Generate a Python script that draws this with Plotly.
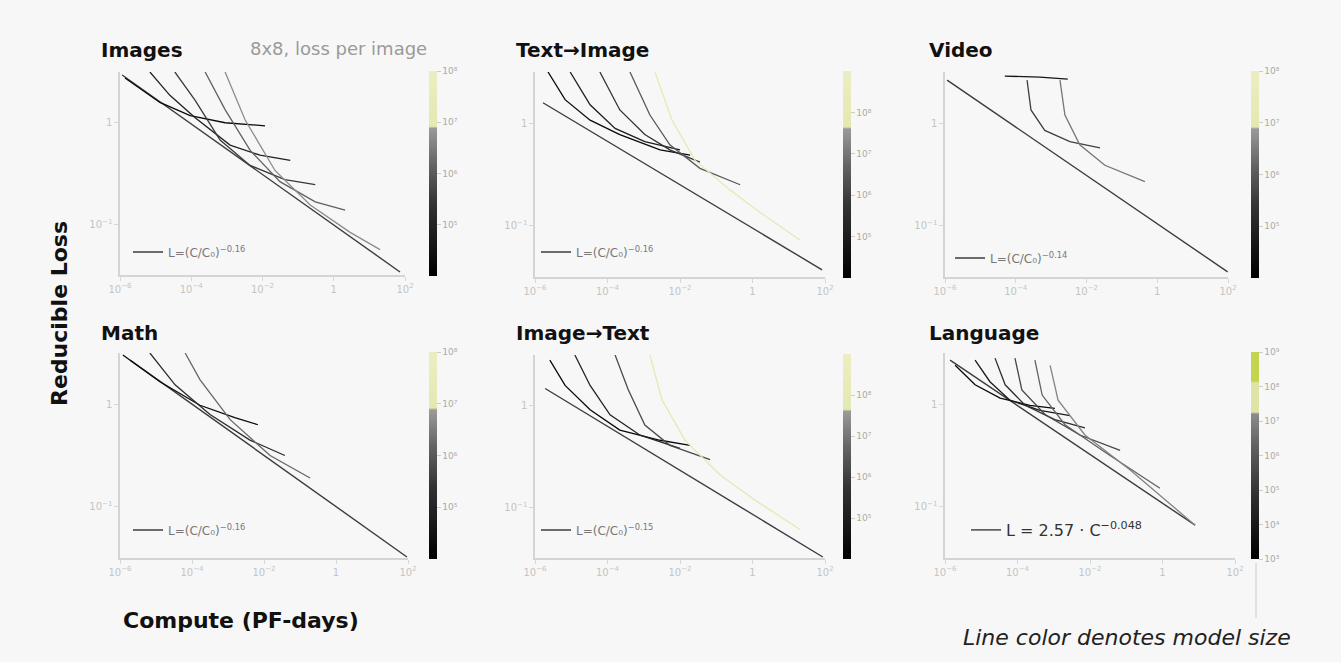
import numpy as np
import plotly.graph_objects as go
from plotly.colors import sample_colorscale

# ---------------- data (log10 values) ----------------
PANEL_TITLES = ["Images", "Text\u2192Image", "Video", "Math", "Image\u2192Text", "Language"]

FIT_TEXT = [
    "L=(C/C\u2080)<sup>\u22120.16</sup>",
    "L=(C/C\u2080)<sup>\u22120.16</sup>",
    "L=(C/C\u2080)<sup>\u22120.14</sup>",
    "L=(C/C\u2080)<sup>\u22120.16</sup>",
    "L=(C/C\u2080)<sup>\u22120.15</sup>",
    "L = 2.57 \u00b7 C<sup>\u22120.048</sup>",
]

# power-law envelope (log10 compute, log10 reducible loss)
IMAGES_FIT_LOGC = [-5.94, 1.86]
IMAGES_FIT_LOGL = [0.47, -1.47]
T2I_FIT_LOGC = [-5.78, 1.92]
T2I_FIT_LOGL = [0.20, -1.43]
VIDEO_FIT_LOGC = [-5.94, 1.99]
VIDEO_FIT_LOGL = [0.42, -1.45]
MATH_FIT_LOGC = [-5.72, 1.97]
MATH_FIT_LOGL = [0.43, -1.49]
I2T_FIT_LOGC = [-5.72, 1.94]
I2T_FIT_LOGL = [0.17, -1.49]
LANG_FIT_LOGC = [-5.86, 0.90]
LANG_FIT_LOGL = [0.43, -1.18]

# learning curves, one list per model size
IMAGES_CURVES_LOGC = [
    [-5.86, -4.88, -4.03, -3.05, -1.93],
    [-5.16, -4.60, -3.89, -2.91, -2.07, -1.22],
    [-4.46, -3.89, -3.19, -2.35, -1.37, -0.52],
    [-3.61, -3.05, -2.35, -1.51, -0.52, 0.32],
    [-3.05, -2.49, -1.65, -0.66, 0.46, 1.30],
]
IMAGES_CURVES_LOGL = [
    [0.44, 0.20, 0.07, 0.00, -0.03],
    [0.50, 0.27, 0.05, -0.22, -0.32, -0.37],
    [0.50, 0.22, -0.17, -0.42, -0.56, -0.61],
    [0.50, 0.13, -0.27, -0.58, -0.78, -0.86],
    [0.50, 0.03, -0.47, -0.81, -1.08, -1.25],
]
IMAGES_SIZES = [4.3, 4.9, 5.5, 6.1, 6.7]

T2I_CURVES_LOGC = [
    [-5.64, -5.17, -4.48, -3.66, -2.55, -1.72],
    [-5.03, -4.48, -3.79, -2.97, -2.00],
    [-4.21, -3.66, -2.97, -2.28, -1.45],
    [-3.38, -2.83, -2.28, -1.45, -0.34],
    [-2.69, -2.22, -1.59, -0.62, 0.21, 1.31],
]
T2I_CURVES_LOGL = [
    [0.50, 0.23, 0.03, -0.11, -0.26, -0.31],
    [0.50, 0.18, -0.05, -0.18, -0.26],
    [0.50, 0.13, -0.11, -0.26, -0.38],
    [0.50, 0.08, -0.21, -0.44, -0.60],
    [0.50, 0.03, -0.36, -0.65, -0.87, -1.14],
]
T2I_SIZES = [4.3, 5.0, 5.7, 6.5, 8.0]

VIDEO_CURVES_LOGC = [
    [-4.31, -3.32, -2.53],
    [-3.68, -3.57, -3.18, -2.47, -1.62],
    [-2.75, -2.61, -2.19, -1.48, -0.35],
]
VIDEO_CURVES_LOGL = [
    [0.46, 0.45, 0.43],
    [0.42, 0.13, -0.07, -0.18, -0.24],
    [0.42, 0.08, -0.21, -0.41, -0.57],
]
VIDEO_SIZES = [4.6, 5.6, 6.4]

MATH_CURVES_LOGC = [
    [-5.92, -4.89, -3.78, -2.81, -2.17],
    [-5.17, -4.47, -3.50, -2.39, -1.42],
    [-4.19, -3.78, -2.94, -1.83, -0.72],
]
MATH_CURVES_LOGL = [
    [0.48, 0.22, -0.01, -0.13, -0.20],
    [0.50, 0.19, -0.10, -0.35, -0.50],
    [0.50, 0.24, -0.15, -0.50, -0.72],
]
MATH_SIZES = [4.3, 5.2, 6.2]

I2T_CURVES_LOGC = [
    [-5.59, -5.17, -4.48, -3.66, -2.55, -1.72],
    [-4.90, -4.48, -3.93, -3.10, -2.00],
    [-3.79, -3.43, -2.97, -2.28, -1.17],
    [-2.83, -2.50, -1.86, -0.90, 0.07, 1.31],
]
I2T_CURVES_LOGL = [
    [0.45, 0.20, -0.04, -0.24, -0.34, -0.39],
    [0.50, 0.20, -0.09, -0.29, -0.42],
    [0.50, 0.16, -0.19, -0.39, -0.53],
    [0.50, 0.06, -0.34, -0.68, -0.93, -1.22],
]
I2T_SIZES = [4.3, 5.2, 6.2, 7.9]

LANG_CURVES_LOGC = [
    [-5.72, -5.17, -4.48, -3.66, -2.97],
    [-5.17, -4.76, -4.21, -3.38, -2.55],
    [-4.62, -4.34, -3.79, -2.97, -2.14],
    [-4.07, -3.88, -3.24, -2.28, -1.17],
    [-3.52, -3.32, -2.69, -1.45, -0.07],
    [-3.10, -2.88, -2.14, -0.90, 0.90],
]
LANG_CURVES_LOGL = [
    [0.38, 0.19, 0.06, -0.01, -0.04],
    [0.43, 0.22, 0.04, -0.06, -0.11],
    [0.45, 0.19, -0.01, -0.15, -0.23],
    [0.45, 0.14, -0.10, -0.30, -0.45],
    [0.43, 0.09, -0.20, -0.50, -0.82],
    [0.38, 0.04, -0.30, -0.64, -1.18],
]
LANG_SIZES = [3.3, 4.0, 4.8, 5.5, 6.3, 7.0]

# colour bar ranges (log10 parameters) and tick labels
CBAR_RANGES = [(4, 8), (4, 9), (4, 8), (4, 8), (4, 9), (3, 9)]
CBAR_TICKVALS = [
    [5, 6, 7, 8], [5, 6, 7, 8], [5, 6, 7, 8],
    [5, 6, 7, 8], [5, 6, 7, 8], [3, 4, 5, 6, 7, 8, 9],
]
SUP = {"3": "\u00b3", "4": "\u2074", "5": "\u2075", "6": "\u2076", "7": "\u2077", "8": "\u2078", "9": "\u2079"}

FITS = [
    (IMAGES_FIT_LOGC, IMAGES_FIT_LOGL), (T2I_FIT_LOGC, T2I_FIT_LOGL), (VIDEO_FIT_LOGC, VIDEO_FIT_LOGL),
    (MATH_FIT_LOGC, MATH_FIT_LOGL), (I2T_FIT_LOGC, I2T_FIT_LOGL), (LANG_FIT_LOGC, LANG_FIT_LOGL),
]
CURVES = [
    (IMAGES_CURVES_LOGC, IMAGES_CURVES_LOGL, IMAGES_SIZES),
    (T2I_CURVES_LOGC, T2I_CURVES_LOGL, T2I_SIZES),
    (VIDEO_CURVES_LOGC, VIDEO_CURVES_LOGL, VIDEO_SIZES),
    (MATH_CURVES_LOGC, MATH_CURVES_LOGL, MATH_SIZES),
    (I2T_CURVES_LOGC, I2T_CURVES_LOGL, I2T_SIZES),
    (LANG_CURVES_LOGC, LANG_CURVES_LOGL, LANG_SIZES),
]

# ---------------- styling ----------------
W, H = 1341, 662
BG = "#f7f7f7"
CS = [[0, "#000000"], [0.35, "#333333"], [0.55, "#666666"], [0.72, "#9a9a9a"],
      [0.73, "#e4e8b0"], [1, "#eceec2"]]
CS_LANG = [[0, "#000000"], [0.3, "#2e2e2e"], [0.55, "#626262"], [0.7, "#8c8c8c"],
           [0.71, "#dfe3a8"], [0.85, "#dfe3a8"], [0.86, "#c4d44e"], [1, "#c4d44e"]]

# panel pixel boxes: (left, top, right, bottom)
BOXES = [
    (120, 72, 405, 275), (535, 72, 825, 277), (945, 72, 1228, 277),
    (120, 353, 408, 558), (535, 355, 825, 558), (945, 353, 1235, 558),
]
CBAR_X = [429, 843, 1251, 429, 843, 1251]
LEG_POS = [(128, 252), (536, 252), (950, 258), (128, 530), (536, 530), (966, 530)]
TITLE_POS = [(99, 50), (514, 50), (927, 50), (99, 333), (514, 333), (927, 333)]


def px(x):
    return x / W


def py(y):
    return 1 - y / H


fig = go.Figure()
layout = dict(
    width=W, height=H, autosize=False, paper_bgcolor=BG, plot_bgcolor=BG,
    margin=dict(l=0, r=0, t=0, b=0, pad=0, autoexpand=False), showlegend=True,
    font=dict(family="DejaVu Sans", color="#222"),
)
annotations = []

for i in range(6):
    n = i + 1
    suf = "" if n == 1 else str(n)
    xa, ya = "x" + suf, "y" + suf
    l, t, r, b = BOXES[i]
    cs = CS_LANG if i == 5 else CS
    cmin, cmax = CBAR_RANGES[i]

    layout["xaxis" + suf] = dict(
        type="log", domain=[px(l), px(r)], anchor=ya, range=[-6, 2], automargin=False,
        showline=True, linecolor="#d4d4d4", linewidth=2, showgrid=False, zeroline=False,
        ticks="outside", tickcolor="#d8d8d8", ticklen=4, dtick=2,
        exponentformat="power", tickfont=dict(size=8, color="#c4c4c4"),
    )
    layout["yaxis" + suf] = dict(
        type="log", domain=[py(b), py(t)], anchor=xa, range=[-1.5, 0.5], automargin=False,
        showline=True, linecolor="#d4d4d4", linewidth=2, showgrid=False, zeroline=False,
        ticks="outside", tickcolor="#d8d8d8", ticklen=4, dtick=1,
        exponentformat="power", tickfont=dict(size=8, color="#c4c4c4"),
    )

    # power-law fit
    flc, fll = FITS[i]
    legname = "legend" + suf
    fig.add_trace(go.Scatter(
        x=10 ** np.array(flc), y=10 ** np.array(fll), mode="lines",
        line=dict(color="#3c3c3c", width=1.4), name=FIT_TEXT[i],
        legend=legname, xaxis=xa, yaxis=ya,
    ))

    # learning curves
    clogc, clogl, sizes = CURVES[i]
    for lc, ll, s in zip(clogc, clogl, sizes):
        col = sample_colorscale(cs, [(s - cmin) / (cmax - cmin)])[0]
        fig.add_trace(go.Scatter(
            x=10 ** np.array(lc), y=10 ** np.array(ll), mode="lines",
            line=dict(color=col, width=1.3), showlegend=False, hoverinfo="skip",
            xaxis=xa, yaxis=ya,
        ))

    lx, ly = LEG_POS[i]
    layout[legname] = dict(
        x=px(lx), y=py(ly), xanchor="left", yanchor="middle", bgcolor="rgba(0,0,0,0)",
        font=dict(size=16 if i == 5 else 12, color="#333" if i == 5 else "#777"),
        itemwidth=30,
    )

    # colour bar
    ca = "coloraxis" + suf
    layout[ca] = dict(
        colorscale=cs, cmin=cmin, cmax=cmax,
        colorbar=dict(
            x=px(CBAR_X[i]), xanchor="left", y=py((t + b) / 2), yanchor="middle",
            xpad=0, ypad=0,
            len=(b - t + 2) / H, lenmode="fraction", thickness=8, outlinewidth=0,
            tickvals=CBAR_TICKVALS[i],
            ticktext=["10" + SUP[str(v)] for v in CBAR_TICKVALS[i]],
            tickfont=dict(size=9, color="#aaaaaa"), ticks="outside",
            tickcolor="#cccccc", ticklen=4,
        ),
    )
    fig.add_trace(go.Scatter(
        x=[10 ** flc[0], 10 ** flc[0]], y=[10 ** fll[0], 10 ** fll[0]], mode="markers",
        marker=dict(color=[cmin, cmax], coloraxis=ca, opacity=0, size=1),
        showlegend=False, hoverinfo="skip", xaxis=xa, yaxis=ya,
    ))

    tx, ty = TITLE_POS[i]
    annotations.append(dict(
        text="<b>" + PANEL_TITLES[i] + "</b>", x=px(tx), y=py(ty), xref="paper", yref="paper",
        xanchor="left", yanchor="middle", showarrow=False,
        font=dict(size=20, color="#111", family="DejaVu Sans"),
    ))

annotations += [
    dict(text="8x8, loss per image", x=px(338), y=py(48), xref="paper", yref="paper",
         xanchor="center", yanchor="middle", showarrow=False,
         font=dict(size=18, color="#9a9a9a")),
    dict(text="<b>Reducible Loss</b>", x=px(60), y=py(314), xref="paper", yref="paper",
         xanchor="center", yanchor="middle", textangle=-90, showarrow=False,
         font=dict(size=22, color="#111")),
    dict(text="<b>Compute (PF-days)</b>", x=px(121), y=py(620), xref="paper", yref="paper",
         xanchor="left", yanchor="middle", showarrow=False,
         font=dict(size=22, color="#111")),
    dict(text="<i>Line color denotes model size</i>", x=px(1127), y=py(637), xref="paper",
         yref="paper", xanchor="center", yanchor="middle", showarrow=False,
         font=dict(size=22, color="#222")),
]
layout["annotations"] = annotations
layout["shapes"] = [
    dict(type="line", xref="paper", yref="paper", x0=px(1256), x1=px(1256),
         y0=py(563), y1=py(618), line=dict(color="#cccccc", width=1)),
]

fig.update_layout(**layout)
fig.write_html(
    "out.html",
    config={"displayModeBar": False},
    post_script="document.body.style.margin='0';document.body.style.overflow='hidden';",
)
